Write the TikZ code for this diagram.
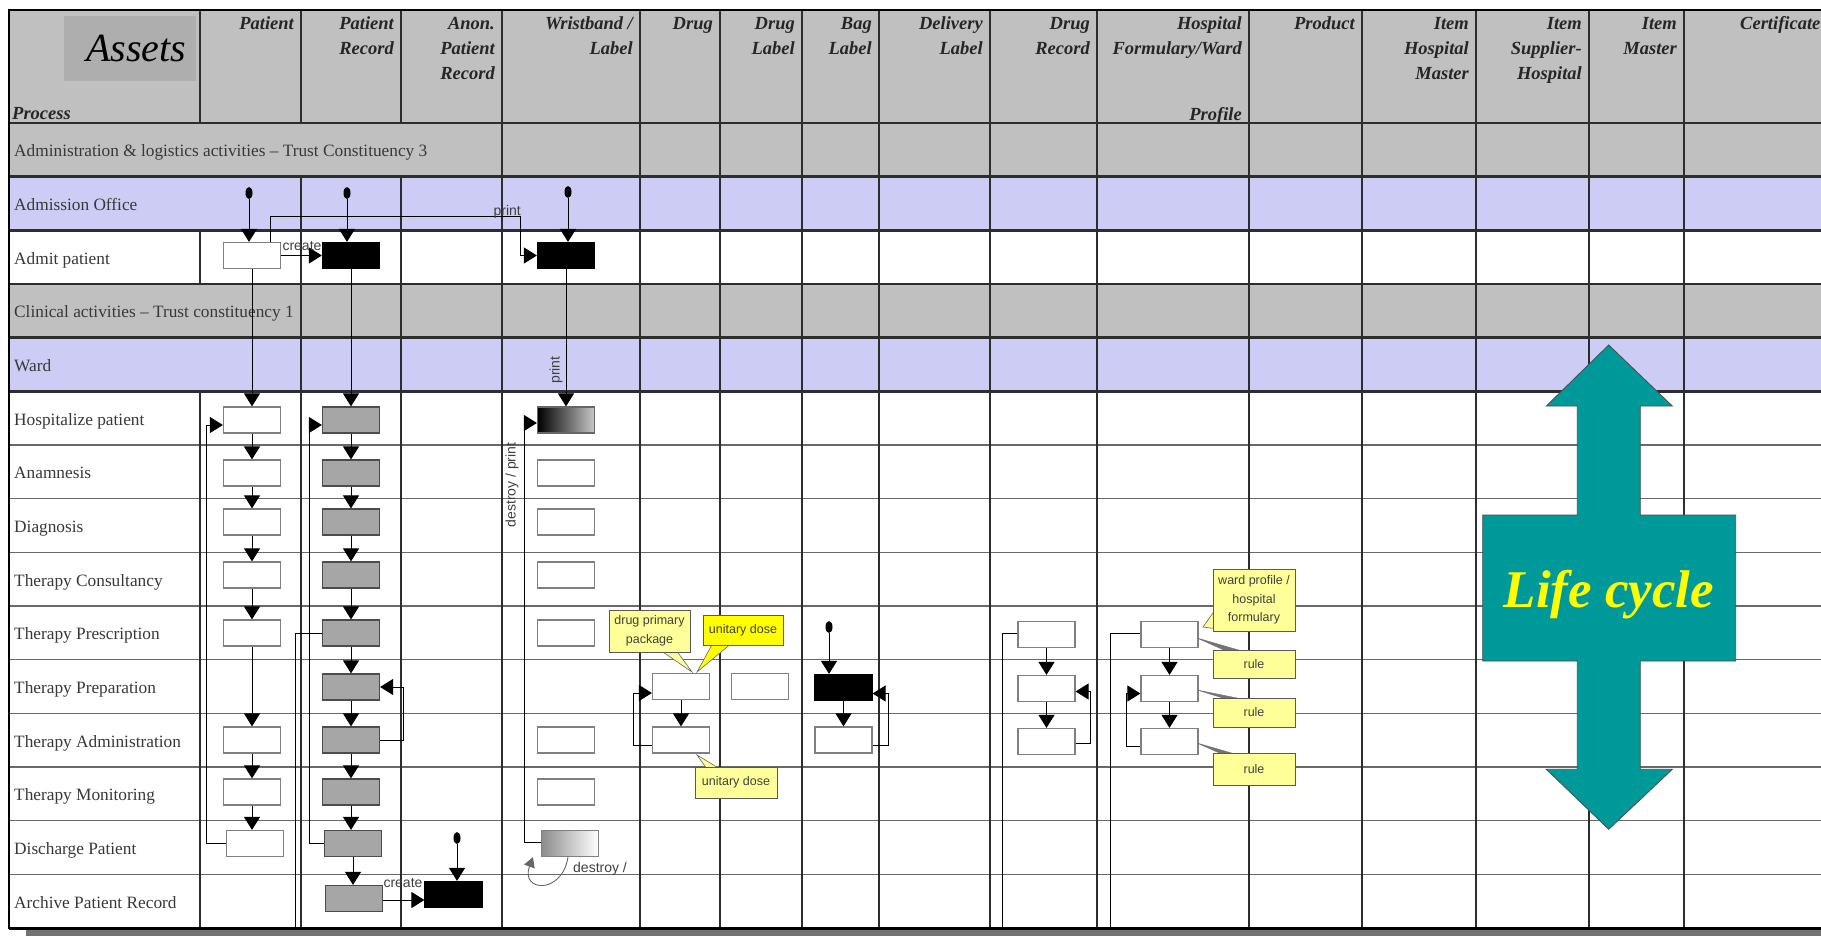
\documentclass[tikz,border=0pt]{standalone}
\usepackage{fontspec}
\setmainfont{Liberation Serif}
\setsansfont{Liberation Sans}
\usetikzlibrary{arrows.meta,shapes.geometric}

\definecolor{hdrgray}{RGB}{192,192,192}
\definecolor{assetgray}{RGB}{174,174,174}
\definecolor{lavrow}{RGB}{204,204,245}
\definecolor{gridline}{RGB}{45,45,45}
\definecolor{rowline}{RGB}{105,105,105}
\definecolor{recgray}{RGB}{166,166,166}
\definecolor{notelight}{RGB}{255,255,153}
\definecolor{notebright}{RGB}{255,255,0}
\definecolor{lcteal}{RGB}{0,153,153}
\definecolor{lcyellow}{RGB}{255,255,0}

% header caption, right-aligned on its baseline
\newcommand\hdrtxt[4]{\node[hdr] (#1) at (#2,#3) {#4};}

\tikzset{
  hdr/.style={anchor=base east, inner sep=0pt, text=black!85,
    font=\fontsize{18.5}{21}\selectfont\bfseries\itshape},
  rowlbl/.style={anchor=base west, inner sep=0pt, text=black!78,
    font=\fontsize{17.3}{20}\selectfont},
  rec/.style={rectangle, minimum width=57pt, minimum height=26pt, inner sep=0pt, line width=1.2pt},
  recw/.style={rec, fill=white, draw=black!50},
  recg/.style={rec, fill=recgray, draw=black!70},
  reck/.style={rec, fill=black, draw=black},
  recin/.style={rec, left color=black, right color=black!22, draw=black!60},
  recout/.style={rec, left color=black!45, right color=white, draw=black!50},
  startdot/.style={ellipse, fill=black, minimum width=7pt, minimum height=12pt, inner sep=0pt},
  flow/.style={draw=black, line width=1pt, -{Triangle[width=16pt,length=13pt]}},
  plainline/.style={draw=black, line width=1pt},
  tagtxt/.style={inner sep=0pt, text=black!75, font=\sffamily\fontsize{14}{16}\selectfont},
  notebox/.style={rectangle, draw=black!65, line width=0.8pt, inner sep=0pt, align=center,
    font=\sffamily\fontsize{12.5}{18.5}\selectfont, text=black!75},
  wedgefill/.style={fill=notelight, draw=black!60, line width=0.6pt},
  wedgedark/.style={fill=black!55, draw=black!55, line width=0.4pt},
}

\begin{document}
\begin{tikzpicture}[x=1pt,y=-1pt]
\useasboundingbox (0,0) rectangle (1821,936);
\clip (0,0) rectangle (1821,936);
\fill[white] (0,0) rectangle (1821,936);

% ---------- table background ----------
\fill[hdrgray] (9,10) rectangle (1821,123);
\fill[hdrgray] (9,123) rectangle (1821,176.7);
\fill[lavrow]  (9,176.7) rectangle (1821,230.3);
\fill[hdrgray] (9,284) rectangle (1821,337.7);
\fill[lavrow]  (9,337.7) rectangle (1821,391.3);
\fill[assetgray] (64,16) rectangle (196,81);
\fill[black!55] (26,930) rectangle (1821,936);

% horizontal rules
\foreach \k in {6,...,14}
  \draw[rowline, line width=1.6pt] (9,{123+53.667*\k}) -- (1821,{123+53.667*\k});
\foreach \k in {0,...,5}
  \draw[gridline, line width=2.6pt] (9,{123+53.667*\k}) -- (1821,{123+53.667*\k});

% vertical rules
\draw[gridline, line width=1.5pt] (200,10) -- (200,123) (200,230.3) -- (200,284) (200,391.3) -- (200,928);
\foreach \x in {301,401}
  \draw[gridline, line width=1.5pt] (\x,10) -- (\x,123) (\x,176.7) -- (\x,928);
\foreach \x in {502,640,720,802,879,990,1097,1249,1362,1476,1589,1684}
  \draw[gridline, line width=1.5pt] (\x,10) -- (\x,928);

% outer frame
\draw[black, line width=2pt] (1821,10) -- (9,10) -- (9,929);
\draw[black, line width=3pt] (9,928) -- (1821,928);

% ---------- header ----------
\node[anchor=base, inner sep=0pt, font=\fontsize{40}{44}\selectfont\itshape] (assets) at (136,62) {Assets};
\node[hdr, anchor=base west] (hProc) at (12,120) {Process};
\hdrtxt{hPat}{294}{30}{Patient}
\hdrtxt{hRec1}{394}{30}{Patient} \hdrtxt{hRec2}{394}{55}{Record}
\hdrtxt{hAn1}{495}{30}{Anon.} \hdrtxt{hAn2}{495}{55}{Patient} \hdrtxt{hAn3}{495}{80}{Record}
\hdrtxt{hWb1}{633}{30}{Wristband /} \hdrtxt{hWb2}{633}{55}{Label}
\hdrtxt{hDg}{713}{30}{Drug}
\hdrtxt{hDl1}{795}{30}{Drug} \hdrtxt{hDl2}{795}{55}{Label}
\hdrtxt{hBl1}{872}{30}{Bag} \hdrtxt{hBl2}{872}{55}{Label}
\hdrtxt{hDv1}{983}{30}{Delivery} \hdrtxt{hDv2}{983}{55}{Label}
\hdrtxt{hDr1}{1090}{30}{Drug} \hdrtxt{hDr2}{1090}{55}{Record}
\hdrtxt{hHf1}{1242}{30}{Hospital} \hdrtxt{hHf2}{1242}{55}{Formulary/Ward} \hdrtxt{hHf3}{1242}{121}{Profile}
\hdrtxt{hPr}{1355}{30}{Product}
\hdrtxt{hIh1}{1469}{30}{Item} \hdrtxt{hIh2}{1469}{55}{Hospital} \hdrtxt{hIh3}{1469}{80}{Master}
\hdrtxt{hIs1}{1582}{30}{Item} \hdrtxt{hIs2}{1582}{55}{Supplier-} \hdrtxt{hIs3}{1582}{80}{Hospital}
\hdrtxt{hIm1}{1677}{30}{Item} \hdrtxt{hIm2}{1677}{55}{Master}
\node[hdr, anchor=base west] (hCe) at (1740,30) {Certificate};

% ---------- process rows ----------
\foreach \lbl [count=\i from 0] in {Administration \& logistics activities – Trust Constituency 3,
  Admission Office, Admit patient, Clinical activities – Trust constituency 1, Ward,
  Hospitalize patient, Anamnesis, Diagnosis, Therapy Consultancy, Therapy Prescription,
  Therapy Preparation, Therapy Administration, Therapy Monitoring, Discharge Patient,
  Archive Patient Record}
  \node[rowlbl] (row\i) at (14,{123+53.667*(\i+0.5)+7}) {\lbl};

% ---------- start states ----------
\node[startdot] (paD) at (249,193) {};
\node[startdot] (prD) at (347,193) {};
\node[startdot] (wbD) at (568,192) {};
\node[startdot] (anD) at (457,838) {};
\node[startdot] (bgD) at (829,627) {};

% ---------- Patient ----------
\node[recw] (pa2)  at (252,255.5) {};
\node[recw] (pa5)  at (252,420) {};
\node[recw] (pa6)  at (252,473) {};
\node[recw] (pa7)  at (252,522) {};
\node[recw] (pa8)  at (252,575) {};
\node[recw] (pa9)  at (252,633) {};
\node[recw] (pa11) at (252,740) {};
\node[recw] (pa12) at (252,792) {};
\node[recw] (pa13) at (255,843.5) {};

% ---------- Patient Record ----------
\node[reck] (pr2)  at (351,255.5) {};
\node[recg] (pr5)  at (351,420) {};
\node[recg] (pr6)  at (351,473) {};
\node[recg] (pr7)  at (351,522) {};
\node[recg] (pr8)  at (351,575) {};
\node[recg] (pr9)  at (351,633) {};
\node[recg] (pr10) at (351,687) {};
\node[recg] (pr11) at (351,740) {};
\node[recg] (pr12) at (351,792) {};
\node[recg] (pr13) at (353,843.5) {};
\node[recg] (pr14) at (354,898.5) {};

% ---------- Anon. Patient Record ----------
\node[reck] (an14) at (453.5,894.5) {};

% ---------- Wristband / Label ----------
\node[reck]  (wb2)  at (566,255.5) {};
\node[recin] (wb5)  at (566,420) {};
\node[recw]  (wb6)  at (566,473) {};
\node[recw]  (wb7)  at (566,522) {};
\node[recw]  (wb8)  at (566,575) {};
\node[recw]  (wb9)  at (566,633) {};
\node[recw]  (wb11) at (566,740) {};
\node[recw]  (wb12) at (566,792) {};
\node[recout] (wb13) at (570,843.5) {};

% ---------- Drug, Drug Label, Bag Label ----------
\node[recw] (dg10) at (681,686.5) {};
\node[recw] (dg11) at (681,740) {};
\node[recw] (dl10) at (760,686.5) {};
\node[reck] (bg10) at (843.5,687.5) {};
\node[recw] (bg11) at (843.5,740) {};

% ---------- Drug Record, Hospital Formulary ----------
\node[recw] (dr9)  at (1046.5,634.5) {};
\node[recw] (dr10) at (1046.5,688.5) {};
\node[recw] (dr11) at (1046.5,741.5) {};
\node[recw] (hf9)  at (1169.5,634.5) {};
\node[recw] (hf10) at (1169.5,688.5) {};
\node[recw] (hf11) at (1169.5,741.5) {};

% free ends of the lines running off the bottom
\coordinate (prEnd) at (295.5,928);
\coordinate (drEnd) at (1002,928);
\coordinate (hfEnd) at (1110,928);
\coordinate (prtC)  at (520,217);

% ---------- transitions ----------
\draw[flow] (paD.south) -- (paD.south |- pa2.north);
\draw[flow] (prD.south) -- (prD.south |- pr2.north);
\draw[flow] (wbD.south) -- (wbD.south |- wb2.north);
\draw[flow] (anD.south) -- (anD.south |- an14.north);
\draw[flow] (bgD.south) -- (bgD.south |- bg10.north);

\draw[flow] (pa2.south) -- (pa5.north);
\foreach \a/\b in {5/6,6/7,7/8,8/9,9/11,11/12,12/13}
  \draw[flow] (pa\a.south) -- (pa\a.south |- pa\b.north);
\draw[flow] (pa13.west) -- ++(-19,0) |- ([yshift=-5pt]pa5.west);

\foreach \a/\b in {2/5,5/6,6/7,7/8,8/9,9/10,10/11,11/12,12/13,13/14}
  \draw[flow] (pr\a.south) -- (pr\a.south |- pr\b.north);
\draw[flow] (pr13.west) -- ++(-14.5,0) |- ([yshift=-5pt]pr5.west);
\draw[flow] (pr11.east) -- ++(23,0) |- (pr10.east);
\draw[plainline] (pr9.west) -| (prEnd);

\draw[flow] (pa2.east) -- (pr2.west);
\node[tagtxt] (lblCreate1) at (302,246) {create};
\draw[flow] ([yshift=-1.5pt]pr14.east) -- ([yshift=-1.5pt]pr14.east -| an14.west);
\node[tagtxt] (lblCreate2) at (403,883) {create};

\draw[flow] ([xshift=18pt]pa2.north) |- (prtC) |- (wb2.west);
\node[tagtxt, anchor=south east] (lblPrint1) at (521,219) {print};

\draw[flow] (wb2.south) -- (wb5.north);
\node[tagtxt, rotate=90] (lblPrint2) at (556,370) {print};
\draw[flow] ([yshift=1.5pt]wb13.west) -- ++(-16.5,0) |- ([yshift=-3pt]wb5.west);
\node[tagtxt, rotate=90] (lblDestroyPrint) at (512,485) {destroy / print};
\draw[black!60, line width=0.9pt, -{Triangle[width=11pt,length=10pt]}]
  ([xshift=-2pt]wb13.south) .. controls (562,895) and (520,892) .. ([xshift=-8pt]wb13.south west);
\node[tagtxt, anchor=west] (lblDestroy) at (573,869) {destroy /};

\draw[flow] (dg10.south) -- (dg11.north);
\draw[flow] ([yshift=-5pt]dg11.west) -- ++(-18,0) |- ([yshift=-6.5pt]dg10.west);
\draw[flow] (bg10.south) -- (bg11.north);
\draw[flow] ([yshift=-5pt]bg11.east) -- ++(16,0) |- ([yshift=-6pt]bg10.east);

\draw[flow] (dr9.south) -- (dr10.north);
\draw[flow] (dr10.south) -- (dr11.north);
\draw[flow] ([yshift=-1.5pt]dr11.east) -- ++(15,0) |- ([yshift=-3pt]dr10.east);
\draw[plainline] ([yshift=1.5pt]dr9.west) -| (drEnd);

\draw[flow] (hf9.south) -- (hf10.north);
\draw[flow] (hf10.south) -- (hf11.north);
\draw[flow] ([yshift=-5pt]hf11.west) -- ++(-14,0) |- ([yshift=-5pt]hf10.west);
\draw[plainline] ([yshift=1.5pt]hf9.west) -| (hfEnd);

% ---------- comments ----------
\draw[wedgefill] (660,650) -- (692,672) -- (676,650) -- cycle;
\draw[wedgefill, fill=notebright] (713,643) -- (697,672) -- (732,643) -- cycle;
\draw[wedgefill] (707,769) -- (697,755) -- (720,769) -- cycle;
\draw[wedgefill] (1215,610) -- (1203,627) -- (1218,629) -- cycle;
\draw[wedgedark] (1197,638) -- (1226,651) -- (1242,651) -- cycle;
\draw[wedgedark] (1197,690) -- (1226,699) -- (1242,699) -- cycle;
\draw[wedgedark] (1197,743) -- (1226,756) -- (1242,756) -- cycle;

\node[notebox, fill=notelight, minimum width=81pt, minimum height=42pt] (nPkg) at (649.5,631) {drug primary\\package};
\node[notebox, fill=notebright, minimum width=80pt, minimum height=30pt] (nDose1) at (743,630) {unitary dose};
\node[notebox, fill=notelight, minimum width=82pt, minimum height=31pt] (nDose2) at (736,782.5) {unitary dose};
\node[notebox, fill=notelight, minimum width=82pt, minimum height=62pt] (nWard) at (1254,600) {ward profile /\\hospital\\formulary};
\node[notebox, fill=notelight, minimum width=82pt, minimum height=28pt] (nRule1) at (1254,664) {rule};
\node[notebox, fill=notelight, minimum width=82pt, minimum height=29pt] (nRule2) at (1254,712.5) {rule};
\node[notebox, fill=notelight, minimum width=82pt, minimum height=32pt] (nRule3) at (1254,769) {rule};

% ---------- life cycle arrow ----------
\draw[fill=lcteal, draw=black!70, line width=0.8pt]
  (1608.7,345) -- (1672.3,406) -- (1640.3,406) -- (1640.3,515) -- (1735.7,515)
  -- (1735.7,661) -- (1640.3,661) -- (1640.3,769.3) -- (1672.3,769.3)
  -- (1608.7,829.3) -- (1546.3,769.3) -- (1577.3,769.3) -- (1577.3,661)
  -- (1482.7,661) -- (1482.7,515) -- (1577.3,515) -- (1577.3,406)
  -- (1546.3,406) -- cycle;
\node[anchor=base, inner sep=0pt, text=lcyellow,
  font=\fontsize{53}{60}\selectfont\bfseries\itshape] (lc) at (1609,607) {Life cycle};

\end{tikzpicture}
\end{document}
